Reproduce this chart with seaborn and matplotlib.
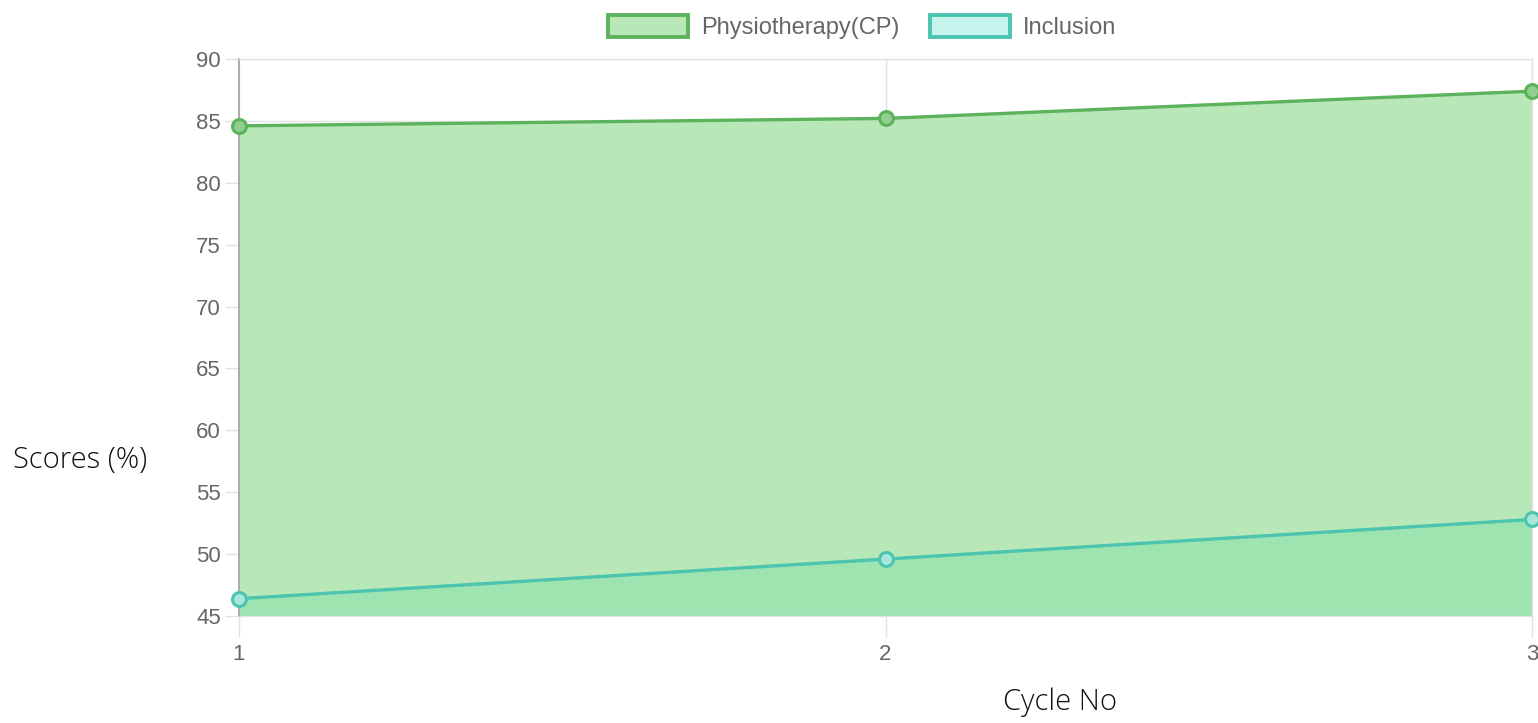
import matplotlib
matplotlib.use("Agg")
import matplotlib.pyplot as plt
import seaborn as sns
import pandas as pd
from matplotlib.patches import Patch

cycles = [1, 2, 3]
physio = [84.6, 85.2, 87.4]
inclusion = [46.4, 49.6, 52.8]
series_names = ["Physiotherapy(CP)", "Inclusion"]
y_ticks = [45, 50, 55, 60, 65, 70, 75, 80, 85, 90]

sns.set_theme(style="white")
plt.rcParams['font.family'] = ['Liberation Sans', 'DejaVu Sans']

fig = plt.figure(figsize=(15.38, 7.23), dpi=100)
ax = fig.add_axes([239/1538, 1-616/723, (1532-239)/1538, (616-59)/723])

df = pd.DataFrame({"cycle": cycles * 2,
                   "score": physio + inclusion,
                   "series": [series_names[0]] * 3 + [series_names[1]] * 3})

green_line = "#5db35d"
green_fill = "#b8e8b8"
teal_line = "#4cc4b0"
teal_fill_over = "#9de4b0"
teal_legend_fill = "#c8f4ee"

ax.fill_between(cycles, 45, physio, color=green_fill, lw=0, zorder=1)
ax.fill_between(cycles, 45, inclusion, color=teal_fill_over, lw=0, zorder=1.5)

sns.lineplot(data=df, x="cycle", y="score", hue="series",
             palette={series_names[0]: green_line, series_names[1]: teal_line},
             marker="o", markersize=10, linewidth=2.4, ax=ax, legend=False, zorder=3)
for line, ec, fc in zip(ax.lines, [green_line, teal_line], ["#8fd08f", "#a8e8dc"]):
    line.set_markerfacecolor(fc)
    line.set_markeredgecolor(ec)
    line.set_markeredgewidth(2.2)
    line.set_clip_on(False)

ax.set_xlim(1, 3)
ax.set_ylim(45, 90)
ax.set_xticks(cycles)
ax.set_xticklabels([str(c) for c in cycles])
ax.set_yticks(y_ticks)
ax.grid(True, color="#e2e2e2", lw=1, zorder=0)
ax.set_axisbelow(True)
for s in ["top", "right", "bottom"]:
    ax.spines[s].set_color("#e2e2e2")
    ax.spines[s].set_linewidth(1)
ax.spines["left"].set_color("#a0a0a0")
ax.spines["left"].set_linewidth(1.2)
ax.tick_params(axis="y", which="both", left=True, length=10, width=1, color="#e2e2e2",
               labelsize=16, labelcolor="#666666", pad=3)
ax.tick_params(axis="x", which="both", bottom=True, length=15, width=1, color="#e2e2e2",
               labelsize=16, labelcolor="#666666", pad=5)
ax.get_xticklines()[0].set_color("#a0a0a0")

ax.set_xlabel("")
ax.set_ylabel("")
fig.text(80/1538, 1-460/723, "Scores (%)", fontsize=21, family=["Open Sans", "DejaVu Sans"],
         weight="light", color="#111111", ha="center", va="center")
fig.text(1060/1538, 1-702/723, "Cycle No", fontsize=21, family=["Open Sans", "DejaVu Sans"],
         weight="light", color="#111111", ha="center", va="center")

handles = [Patch(facecolor=green_fill, edgecolor=green_line, lw=2.8),
           Patch(facecolor=teal_legend_fill, edgecolor=teal_line, lw=2.8)]
leg = fig.legend(handles, series_names, loc="center", bbox_to_anchor=(862/1538, 1-27/723),
                 ncol=2, frameon=False, fontsize=17, handlelength=3.4, handleheight=1.05,
                 handletextpad=0.55, columnspacing=1.3, labelcolor="#666666")

fig.savefig("out.png", dpi=100)
